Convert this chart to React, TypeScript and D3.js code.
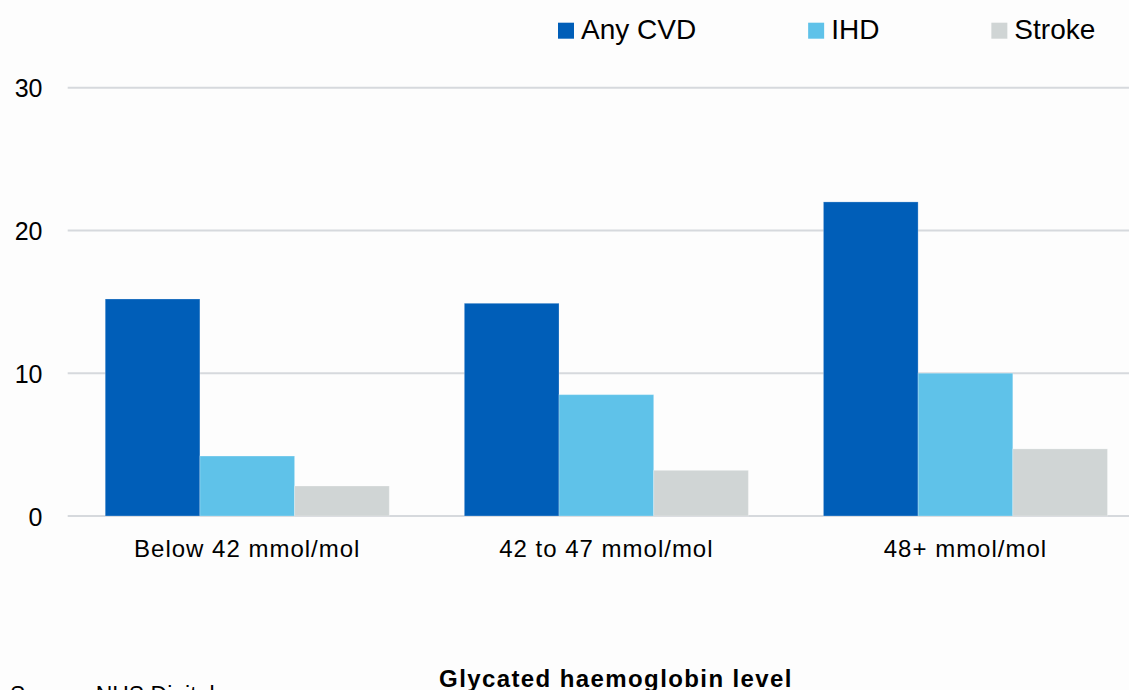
import { useMemo } from 'react';
import * as d3 from 'd3';

const categories = ['Below 42 mmol/mol', '42 to 47 mmol/mol', '48+ mmol/mol'];
const seriesNames = ['Any CVD', 'IHD', 'Stroke'];
const anyCvd = [15.2, 14.9, 22.0];
const ihd = [4.2, 8.5, 10.0];
const stroke = [2.1, 3.2, 4.7];
const yTicks = [0, 10, 20, 30];

const COLORS = ['#005EB8', '#5FC2E9', '#D0D5D5'];
const FONT = '"Liberation Sans", Arial, sans-serif';
const W = 1129;
const H = 690;

export default function App() {
  const rows = useMemo(
    () => categories.map((c, i) => ({ cat: c, values: [anyCvd[i], ihd[i], stroke[i]] })),
    [],
  );

  const x = d3.scaleBand<string>().domain(categories).range([67.7, 1145]).paddingInner(0.209).paddingOuter(0.1045);
  const xs = d3.scaleBand<string>().domain(seriesNames).range([0, x.bandwidth()]);
  const y = d3.scaleLinear().domain([0, 30]).range([516, 87.7]);

  // legend: square, label, then a fixed gap to the next entry
  const legend = useMemo(() => {
    const ctx = document.createElement('canvas').getContext('2d');
    let cx = 558;
    return seriesNames.map((name, i) => {
      let w = name.length * 15;
      if (ctx) {
        ctx.font = `28px ${FONT}`;
        w = ctx.measureText(name).width;
      }
      const item = { name, x: cx, color: COLORS[i] };
      cx += 16 + 7 + w + 112;
      return item;
    });
  }, []);

  return (
    <svg
      width={W}
      height={H}
      viewBox={`0 0 ${W} ${H}`}
      style={{ position: 'absolute', left: 0, top: 0, display: 'block', background: '#fdfdfd' }}
      fontFamily={FONT}
    >
      {yTicks.map((t) => (
        <g key={t}>
          <line x1={67.7} x2={W} y1={y(t)} y2={y(t)} stroke="#D6D9DD" strokeWidth={2} />
          <text x={42.5} y={y(t) + 9.5} textAnchor="end" fontSize={25} fill="#000">
            {t}
          </text>
        </g>
      ))}

      {rows.map((r) => (
        <g key={r.cat} transform={`translate(${x(r.cat)},0)`}>
          {r.values.map((v, i) => (
            <rect
              key={seriesNames[i]}
              x={xs(seriesNames[i])}
              y={y(v)}
              width={xs.bandwidth()}
              height={y(0) - y(v)}
              fill={COLORS[i]}
              stroke="#ffffff"
              strokeOpacity={0.25}
              strokeWidth={1}
            />
          ))}
          <text
            x={x.bandwidth() / 2}
            y={y(0) + 41}
            textAnchor="middle"
            fontSize={24}
            letterSpacing={1}
            fill="#000"
          >
            {r.cat}
          </text>
        </g>
      ))}

      {legend.map((l) => (
        <g key={l.name}>
          <rect x={l.x} y={22.7} width={16} height={16} fill={l.color} />
          <text x={l.x + 23} y={39} fontSize={28} fill="#000">
            {l.name}
          </text>
        </g>
      ))}

      <text x={616} y={687} textAnchor="middle" fontSize={24} fontWeight={700} letterSpacing={1.4} fill="#000">
        Glycated haemoglobin level
      </text>
      <text x={10} y={703} fontSize={23} fill="#000">
        Source: NHS Digital
      </text>
    </svg>
  );
}
